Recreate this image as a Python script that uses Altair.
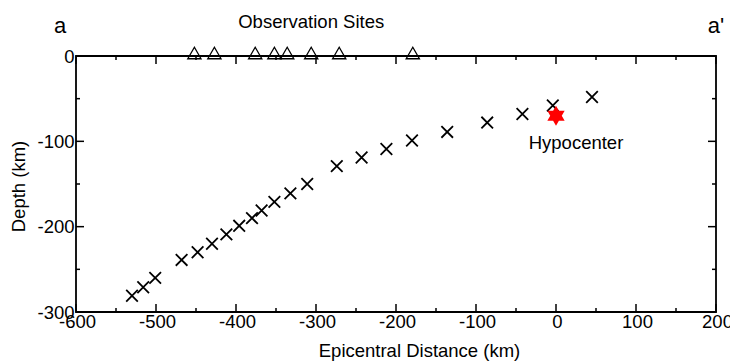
import altair as alt
import pandas as pd

# Earthquake (aftershock / slab) points
quake_x = [-530, -516, -501, -468, -448, -430, -412, -396, -380, -368, -352, -332,
           -311, -274, -243, -212, -180, -136, -86, -42, -4, 45]
quake_y = [-281, -271, -260, -239, -230, -220, -209, -199, -190, -181, -171, -161,
           -150, -129, -119, -109, -99, -89, -78, -68, -58, -48]

# Observation sites (on the surface)
site_x = [-452, -427, -376, -352, -336, -306, -271, -179]

# Hypocenter
hypo_x = [0]
hypo_y = [-70]

# Axis ticks
x_major = [-600, -500, -400, -300, -200, -100, 0, 100, 200]
x_minor = [-550, -450, -350, -250, -150, -50, 50, 150]
y_major = [0, -100, -200, -300]
y_minor = [-50, -150, -250]

FONT = "Liberation Sans"
FS = 18.5

quakes = pd.DataFrame({"x": quake_x, "y": quake_y})
sites = pd.DataFrame({"x": site_x})
hypo = pd.DataFrame({"x": hypo_x, "y": hypo_y, "label": ["Hypocenter"]})

xscale = alt.Scale(domain=[-600, 200], nice=False, zero=False)
yscale = alt.Scale(domain=[-300, 0], nice=False, zero=False)

LBL = "'' + datum.value"

x_axis = alt.Axis(values=x_major, labelExpr=LBL, ticks=False, tickSize=0, domain=False, grid=False,
                  labelPadding=0, labelFlush=False, labelOffset=1, labelFont=FONT, labelFontSize=FS,
                  labelColor="black", labelOverlap=False, title="Epicentral Distance (km)",
                  titleFont=FONT, titleFontSize=FS, titleFontWeight="normal", titleColor="black",
                  titleX=343, titleY=44, titleBaseline="alphabetic", titleAlign="center")
y_axis = alt.Axis(values=y_major, labelExpr=LBL, ticks=False, tickSize=0, domain=False, grid=False,
                  labelPadding=2, labelFlush=False, labelFont=FONT, labelFontSize=FS,
                  labelColor="black", labelOverlap=False, title="Depth (km)", titleFont=FONT,
                  titleFontSize=FS, titleFontWeight="normal", titleColor="black", titleX=-52,
                  titleY=130, titleAngle=-90, titleBaseline="alphabetic", titleAlign="center")

XPATH = "M-1,-1L1,1M-1,1L1,-1"
HEX = ("M0,-1L0.289,-0.5L0.866,-0.5L0.577,0L0.866,0.5L0.289,0.5L0,1L-0.289,0.5"
       "L-0.866,0.5L-0.577,0L-0.866,-0.5L-0.289,-0.5Z")

def X(field):
    return alt.X(field, scale=xscale, axis=x_axis)

def Y(field):
    return alt.Y(field, scale=yscale, axis=y_axis)

crosses = alt.Chart(quakes).mark_point(shape=XPATH, size=135, strokeWidth=1.8,
                                       color="black", filled=False, opacity=1).encode(
    x=X("x:Q"), y=Y("y:Q"),
)

tri = alt.Chart(sites).mark_point(shape="triangle-up", size=175, strokeWidth=1.3,
                                  color="black", filled=False, opacity=1, yOffset=-3).encode(
    x=X("x:Q"),
    y=alt.YDatum(0, scale=yscale, axis=y_axis),
)

star = alt.Chart(hypo).mark_point(shape=HEX, size=400, filled=True, color="red",
                                  opacity=1, strokeWidth=0).encode(
    x=X("x:Q"), y=Y("y:Q"),
)

hypo_text = alt.Chart(hypo).mark_text(font=FONT, fontSize=FS, color="black", align="center",
                                      baseline="alphabetic", dx=20, dy=33).encode(
    x=X("x:Q"), y=Y("y:Q"), text="label:N",
)

def annot(txt, xval, dy, size):
    return alt.Chart(pd.DataFrame({"t": [txt]})).mark_text(
        font=FONT, fontSize=size, color="black", align="center", baseline="alphabetic", dy=dy
    ).encode(x=alt.XDatum(xval, scale=xscale, axis=x_axis),
             y=alt.YDatum(0, scale=yscale, axis=y_axis), text="t:N")

obs_text = annot("Observation Sites", -306, -28, FS)
a_text = annot("a", -620, -23, 22)
a2_text = annot("a'", 200, -23, 22)

def ticks(vals, axis_side, length):
    df = pd.DataFrame({"v": vals})
    if axis_side in ("bottom", "top"):
        base = -300 if axis_side == "bottom" else 0
        off = -length if axis_side == "bottom" else length
        return alt.Chart(df).mark_rule(color="black", strokeWidth=1.5, y2Offset=off).encode(
            x=X("v:Q"),
            y=alt.YDatum(base, scale=yscale, axis=y_axis),
            y2=alt.Y2Datum(base),
        )
    base = -600 if axis_side == "left" else 200
    off = length if axis_side == "left" else -length
    return alt.Chart(df).mark_rule(color="black", strokeWidth=1.5, x2Offset=off).encode(
        y=Y("v:Q"),
        x=alt.XDatum(base, scale=xscale, axis=x_axis),
        x2=alt.X2Datum(base),
    )

tick_layers = []
for side in ("bottom", "top"):
    tick_layers.append(ticks(x_major, side, 8))
    tick_layers.append(ticks(x_minor, side, 4))
for side in ("left", "right"):
    tick_layers.append(ticks(y_major, side, 8))
    tick_layers.append(ticks(y_minor, side, 4))

chart = alt.layer(
    crosses, *tick_layers, tri, star, hypo_text, obs_text, a_text, a2_text
).properties(
    width=640, height=256,
    autosize=alt.AutoSizeParams(type="none"),
    padding={"left": 68, "top": 48, "right": 14, "bottom": 50},
    background="white",
).configure_view(
    stroke="black", strokeWidth=1.8, clip=False
)

chart.save("out.html", embed_options={"renderer": "svg", "actions": False})
